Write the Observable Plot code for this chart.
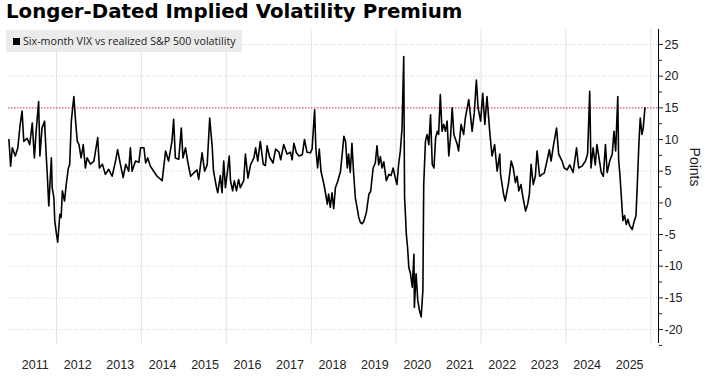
<!DOCTYPE html>
<html>
<head>
<meta charset="utf-8">
<script src="https://cdn.jsdelivr.net/npm/d3@7"></script>
<script src="https://cdn.jsdelivr.net/npm/@observablehq/plot@0.6"></script>
<style>
  html, body { margin: 0; padding: 0; background: #fff; }
  #wrap { position: relative; width: 705px; height: 377px; overflow: hidden; }
  #title { position: absolute; left: 6px; top: 0px; font-family: "DejaVu Sans", sans-serif; font-weight: bold; font-size: 19.8px; color: #000; white-space: nowrap; }
  #legend { position: absolute; left: 6px; top: 30px; height: 22px; background: #ebebeb; font-family: "Open Sans", sans-serif; font-size: 10.7px; color: #222; display: flex; align-items: center; padding: 0 6px 0 7px; white-space: nowrap; }
  #legend .sw { display: inline-block; width: 7px; height: 7px; background: #000; margin-right: 3px; }
  #chart { position: absolute; left: 0; top: 0; }
</style>
</head>
<body>
<div id="wrap">
  <div id="chart"></div>
  <div id="title">Longer-Dated Implied Volatility Premium</div>
  <div id="legend"><span class="sw"></span>Six-month VIX vs realized S&amp;P 500 volatility</div>
</div>
<script>
// Decimal-year dates and values (points)
const years = [
  2010.88,2010.92,2010.96,2011.03,2011.09,2011.14,2011.19,2011.23,2011.31,2011.37,2011.43,2011.48,2011.52,2011.58,2011.61,2011.66,2011.72,2011.76,2011.78,2011.82,2011.88,2011.90,2011.94,2011.96,
  2012.00,2012.03,2012.08,2012.11,2012.14,2012.19,2012.23,2012.28,2012.31,2012.35,2012.41,2012.45,2012.49,2012.53,2012.58,2012.63,2012.68,2012.72,2012.80,2012.88,2012.97,
  2013.01,2013.08,2013.15,2013.23,2013.31,2013.39,2013.44,2013.49,2013.57,2013.63,2013.70,2013.74,2013.78,2013.86,2013.94,2013.98,
  2014.06,2014.10,2014.15,2014.21,2014.29,2014.37,2014.49,2014.57,2014.64,2014.72,2014.76,2014.80,2014.88,2014.94,2014.98,
  2015.04,2015.09,2015.16,2015.23,2015.31,2015.35,2015.43,2015.49,2015.55,2015.61,2015.67,2015.70,2015.77,2015.80,2015.86,2015.90,2015.94,2015.98,
  2016.03,2016.07,2016.10,2016.15,2016.19,2016.24,2016.29,2016.33,2016.41,2016.45,2016.51,2016.57,2016.65,2016.69,2016.74,2016.80,2016.87,2016.92,2016.96,
  2017.02,2017.10,2017.16,2017.24,2017.28,2017.35,2017.43,2017.51,2017.55,2017.59,2017.65,2017.71,2017.79,2017.84,2017.90,2017.98,
  2018.02,2018.08,2018.11,2018.15,2018.19,2018.23,2018.30,2018.34,2018.38,2018.41,2018.45,2018.49,2018.53,2018.57,2018.63,2018.69,2018.73,2018.77,2018.81,2018.85,2018.88,2018.92,2018.96,
  2019.00,2019.04,2019.08,2019.12,2019.16,2019.20,2019.24,2019.30,2019.36,2019.40,2019.46,2019.51,2019.55,2019.59,2019.63,2019.67,2019.71,2019.77,2019.83,2019.88,2019.93,2019.98,
  2020.02,2020.06,2020.10,2020.14,2020.18,2020.20,2020.22,2020.24,2020.27,2020.30,2020.34,2020.38,2020.42,2020.43,2020.47,2020.51,2020.55,2020.59,2020.63,2020.65,2020.69,2020.73,2020.77,2020.81,2020.85,2020.89,2020.93,2020.97,
  2021.00,2021.04,2021.08,2021.12,2021.16,2021.20,2021.24,2021.28,2021.32,2021.36,2021.44,2021.47,2021.53,2021.59,2021.63,2021.71,2021.75,2021.79,2021.84,2021.89,2021.93,2021.99,
  2022.04,2022.09,2022.14,2022.21,2022.26,2022.32,2022.38,2022.44,2022.46,2022.53,2022.57,2022.65,2022.71,2022.76,2022.81,2022.85,2022.89,2022.94,2022.99,
  2023.05,2023.10,2023.14,2023.18,2023.23,2023.28,2023.32,2023.38,2023.44,2023.49,2023.56,2023.61,2023.65,2023.71,2023.78,2023.83,2023.91,2023.96,
  2024.03,2024.09,2024.17,2024.25,2024.30,2024.38,2024.46,2024.51,2024.56,2024.59,2024.64,2024.69,2024.73,2024.79,2024.83,2024.88,2024.93,2024.97,
  2025.03,2025.09,2025.13,2025.17,2025.22,2025.24,2025.27,2025.30,2025.34,2025.38,2025.42,2025.46,2025.50,2025.56,2025.60,2025.65,2025.69,2025.72,2025.75,2025.79,2025.82,2025.86
];
const premium = [
  10.0,5.8,8.7,7.4,8.7,12.1,14.5,9.7,10.2,9.2,12.6,7.1,11.2,16.0,7.4,11.8,12.9,7.4,5.0,-0.5,7.1,2.4,0.8,-2.8,
  -4.9,-6.2,-1.8,-2.3,1.9,0.3,2.9,5.5,6.0,12.9,16.8,12.9,9.7,9.2,7.1,9.2,5.5,7.1,6.1,6.6,10.3,
  5.5,6.1,4.5,5.3,4.2,6.6,8.4,6.6,4.0,6.1,5.0,8.7,5.0,6.6,6.4,8.7,
  8.7,6.3,7.1,5.8,5.0,4.2,3.5,8.2,6.6,9.7,13.2,7.1,6.9,11.8,7.1,
  8.7,6.6,4.2,4.7,5.2,3.7,7.9,5.0,6.0,13.4,8.7,5.0,2.4,1.6,4.3,1.6,6.6,2.4,
  5.0,7.4,3.5,1.9,3.5,1.9,3.7,2.4,3.5,7.7,3.9,6.0,7.1,8.7,6.6,9.7,6.1,5.9,9.0,
  7.2,6.3,8.5,8.0,6.8,9.2,7.7,8.0,6.8,9.4,7.9,7.4,7.6,10.0,8.0,7.9,
  8.5,14.7,8.5,5.5,8.5,5.0,2.9,1.4,-0.2,1.4,-0.7,1.6,-0.9,2.4,3.5,5.0,7.7,10.5,9.7,5.5,7.7,4.8,9.4,
  4.6,0.8,-0.7,-2.3,-3.1,-3.3,-2.9,-1.5,1.4,1.8,5.5,6.3,9.0,6.0,7.3,5.5,6.5,3.5,4.5,4.3,5.5,4.0,
  2.9,6.1,8.2,11.8,23.1,0.8,-1.8,-4.9,-7.0,-10.2,-11.2,-13.3,-8.1,-16.5,-11.2,-15.4,-17.0,-18.0,-13.8,2.9,9.7,10.8,9.2,13.9,6.1,5.5,10.3,11.3,
  10.8,17.1,11.3,12.4,11.3,12.9,7.4,10.3,15.0,10.8,9.2,8.2,12.4,10.8,13.4,16.3,13.9,11.3,14.2,19.4,15.0,12.9,
  17.3,12.4,16.8,10.8,7.4,9.2,5.0,7.7,4.5,1.4,0.3,3.2,6.6,5.5,3.2,4.2,1.9,2.9,0.8,
  -1.3,-0.2,1.4,6.1,2.9,4.2,8.2,4.2,4.5,4.7,6.8,8.4,6.6,9.2,11.8,7.7,6.6,5.5,
  5.2,6.0,4.8,8.7,5.5,5.8,6.6,7.7,17.6,5.5,8.7,6.0,9.2,6.6,4.8,4.2,9.2,4.8,
  6.6,7.7,11.3,8.2,16.8,6.8,4.5,1.4,-2.8,-2.0,-3.4,-2.6,-3.6,-4.2,-3.1,-2.0,4.5,9.7,13.4,10.8,11.8,15.0
];
const yTicks = [-20, -15, -10, -5, 0, 5, 10, 15, 20, 25];
const yMinorTicks = [-22.5, -17.5, -12.5, -7.5, -2.5, 2.5, 7.5, 12.5, 17.5, 22.5];
const yearLabels = [2011, 2012, 2013, 2014, 2015, 2016, 2017, 2018, 2019, 2020, 2021, 2022, 2023, 2024, 2025];
const gridYears = [2012, 2014, 2016, 2018, 2020, 2022, 2024, 2026];
const threshold = 15;

function dec(y) {
  const yr = Math.floor(y);
  const s = Date.UTC(yr, 0, 1), e = Date.UTC(yr + 1, 0, 1);
  return new Date(s + (y - yr) * (e - s));
}
const data = years.map((y, i) => ({date: dec(y), value: premium[i]}));
const xMin = dec(2010.87), xMax = dec(2026.18);

const chart = Plot.plot({
  width: 705,
  height: 377,
  marginTop: 29,
  marginBottom: 34,
  marginLeft: 8,
  marginRight: 47,
  style: {fontFamily: "'Liberation Sans', sans-serif", fontSize: "12.5px", color: "#222", background: "transparent"},
  x: {type: "utc", domain: [xMin, xMax]},
  y: {domain: [-22.2, 27.37]},
  marks: [
    Plot.ruleX(gridYears.map(y => dec(y)), {stroke: "#e4e4e4", strokeWidth: 1}),
    Plot.ruleY(yTicks.filter(v => v !== threshold), {stroke: "#cfcfcf", strokeDasharray: "1,2"}),
    Plot.ruleY([threshold], {stroke: "#e0506a", strokeWidth: 1.2, strokeDasharray: "1.5,1.5"}),
    Plot.line(data, {x: "date", y: "value", stroke: "#000", strokeWidth: 1.6}),
    Plot.ruleX([xMax], {stroke: "#000", strokeWidth: 1}),
    Plot.axisY({anchor: "right", ticks: yTicks, tickSize: 4, tickPadding: 2, tickFormat: d => String(d), label: null}),
    Plot.axisY({anchor: "right", ticks: yMinorTicks, tickSize: 3, tickFormat: () => "", label: null}),
    Plot.axisX({anchor: "bottom", ticks: yearLabels.map(y => dec(y + 0.5)), tickSize: 0, tickPadding: 17, tickFormat: d3.utcFormat("%Y"), label: null}),
    Plot.text(["Points"], {frameAnchor: "right", dx: 36, rotate: 90, fontSize: 14, fill: "#222"})
  ]
});
document.getElementById("chart").appendChild(chart);
</script>
</body>
</html>
